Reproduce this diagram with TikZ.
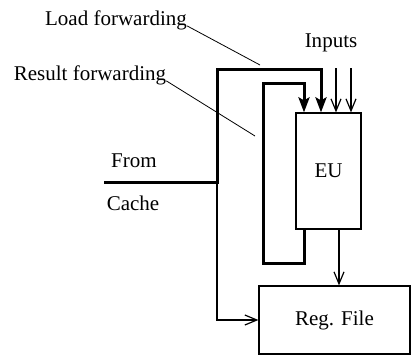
\documentclass[tikz,border=0pt]{standalone}
\usepackage{fontspec}
\setmainfont{Liberation Serif}
\usetikzlibrary{arrows.meta}
\tikzset{
  lbl/.style={font=\fontsize{21}{25}\selectfont, inner sep=0pt},
  unit/.style={draw, line width=1.2pt, inner sep=0pt, font=\fontsize{21}{25}\selectfont},
  fwd/.style={line width=3pt, -{Stealth[length=15pt,width=11pt,inset=3pt]}},
  sig/.style={line width=1.2pt, -{Straight Barb[length=12pt,width=10pt]}},
  lead/.style={line width=0.8pt}
}
\begin{document}
\begin{tikzpicture}[x=1pt,y=-1pt]
  \useasboundingbox (0,0) rectangle (411,356);
  % units
  \node[unit, minimum width=65pt, minimum height=116pt] (eu) at (328.5,171) {EU};
  \node[unit, minimum width=151pt, minimum height=68pt] (reg) at (334.5,320) {Reg. File};
  % labels
  \node[lbl] (lf) at (116,20) {Load forwarding};
  \node[lbl] (rf) at (90,75) {Result forwarding};
  \node[lbl] (inp) at (331,43) {Inputs};
  \node[lbl] (from) at (134,161) {From};
  \node[lbl] (cache) at (133,203) {Cache};
  % corners of the paths
  \coordinate (cin) at (104,182);
  \coordinate (junc) at (217,182);
  \coordinate (ltop) at (321,69);
  \coordinate (rbot) at (304,263);
  \coordinate (rtop) at (263,83);
  \coordinate (in1) at (336,68);
  \coordinate (in2) at (351,68);
  \coordinate (lfend) at (260,65);
  \coordinate (rfend) at (255,136);
  % load forwarding
  \draw[fwd] (cin) -- (junc) |- (ltop) -- (ltop |- eu.north);
  \draw[sig] (junc) |- (reg.west);
  % result forwarding
  \draw[fwd] (rbot |- eu.south) -- (rbot) -| (rtop) -| (rbot |- eu.north);
  % other inputs and output
  \draw[sig] (in1) -- (in1 |- eu.north);
  \draw[sig] (in2) -- (in2 |- eu.north);
  \draw[sig] (eu.south -| 339,0) -- (reg.north -| 339,0);
  % leaders
  \draw[lead] ([yshift=4pt]lf.south east) -- (lfend);
  \draw[lead] ([yshift=4pt]rf.south east) -- (rfend);
\end{tikzpicture}
\end{document}
